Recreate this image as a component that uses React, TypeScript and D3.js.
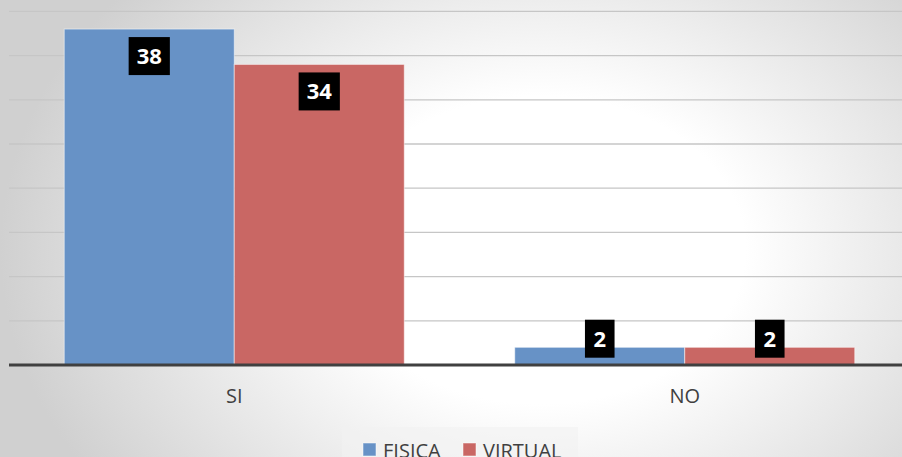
import React from "react";
import * as d3 from "d3";

const categories = ["SI", "NO"];
const seriesNames = ["FISICA", "VIRTUAL"];
const fisicaValues = [38, 2];
const virtualValues = [34, 2];
const yTicks = [0, 5, 10, 15, 20, 25, 30, 35, 40];

const W = 902;
const H = 457;
const colors = ["#6792c6", "#c96764"];
const FONT = "'Open Sans', 'DejaVu Sans', sans-serif";

export default function App() {
  const plotLeft = 9;
  const plotRight = 910;
  const baseY = 365;
  const x0 = d3.scaleBand<string>().domain(categories).range([plotLeft, plotRight]).padding(0);
  const y = d3.scaleLinear().domain([0, 40]).range([baseY, 11.4]);
  const bw = x0.bandwidth();
  const gap = 0.65;
  const barW = bw / (seriesNames.length + gap);
  const x1 = d3
    .scaleBand<string>()
    .domain(seriesNames)
    .range([(gap * barW) / 2, bw - (gap * barW) / 2])
    .padding(0);
  const valuesBySeries = [fisicaValues, virtualValues];

  return (
    <svg
      width={W}
      height={H}
      style={{ position: "absolute", left: 0, top: 0, display: "block" }}
    >
      <defs>
        <radialGradient
          id="bg"
          gradientUnits="userSpaceOnUse"
          cx={540}
          cy={250}
          r={540}
          gradientTransform="translate(540,250) scale(1,0.75) translate(-540,-250)"
        >
          <stop offset="0" stopColor="#ffffff" />
          <stop offset="0.38" stopColor="#ffffff" />
          <stop offset="1" stopColor="#d0d0d0" />
        </radialGradient>
      </defs>
      <rect x={0} y={0} width={W} height={H} fill="url(#bg)" />

      {yTicks
        .filter((t) => t > 0)
        .map((t) => (
          <line
            key={t}
            x1={plotLeft}
            x2={W}
            y1={y(t)}
            y2={y(t)}
            stroke="#c6c6c6"
            strokeWidth={1.3}
          />
        ))}

      {categories.map((c, ci) =>
        seriesNames.map((s, si) => {
          const v = valuesBySeries[si][ci];
          const bx = (x0(c) as number) + (x1(s) as number);
          const by = y(v);
          return (
            <rect
              key={c + s}
              x={bx}
              y={by}
              width={x1.bandwidth()}
              height={baseY - by}
              fill={colors[si]}
              stroke="#ffffff"
              strokeOpacity={0.5}
              strokeWidth={1}
            />
          );
        })
      )}

      <line x1={plotLeft} x2={W} y1={baseY} y2={baseY} stroke="#404040" strokeWidth={3} />

      {categories.map((c, ci) =>
        seriesNames.map((s, si) => {
          const v = valuesBySeries[si][ci];
          const label = String(v);
          const cx = (x0(c) as number) + (x1(s) as number) + x1.bandwidth() / 2;
          const by = y(v);
          const boxH = 38;
          const boxW = 18 + 11.6 * label.length;
          let top = by + 8;
          if (top + boxH > baseY - 7) top = baseY - 7.3 - boxH;
          return (
            <g key={"l" + c + s}>
              <rect x={cx - boxW / 2} y={top} width={boxW} height={boxH} fill="#000000" />
              <text
                x={cx}
                y={top + 27}
                textAnchor="middle"
                fill="#ffffff"
                fontFamily={FONT}
                fontWeight={700}
                fontSize={22}
              >
                {label}
              </text>
            </g>
          );
        })
      )}

      {categories.map((c) => (
        <text
          key={"c" + c}
          x={(x0(c) as number) + bw / 2}
          y={403}
          textAnchor="middle"
          fill="#404040"
          fontFamily={FONT}
          fontSize={20}
        >
          {c}
        </text>
      ))}

      <rect x={342} y={427} width={236} height={40} fill="#f2f2f2" opacity={0.6} />
      {seriesNames.map((s, si) => {
        const lx = [363, 463][si];
        return (
          <g key={"lg" + s}>
            <rect
              x={lx}
              y={443}
              width={13}
              height={13}
              fill={colors[si]}
              stroke="#ffffff"
              strokeOpacity={0.5}
            />
            <text x={lx + 20} y={458} fill="#404040" fontFamily={FONT} fontSize={20}>
              {s}
            </text>
          </g>
        );
      })}
    </svg>
  );
}
